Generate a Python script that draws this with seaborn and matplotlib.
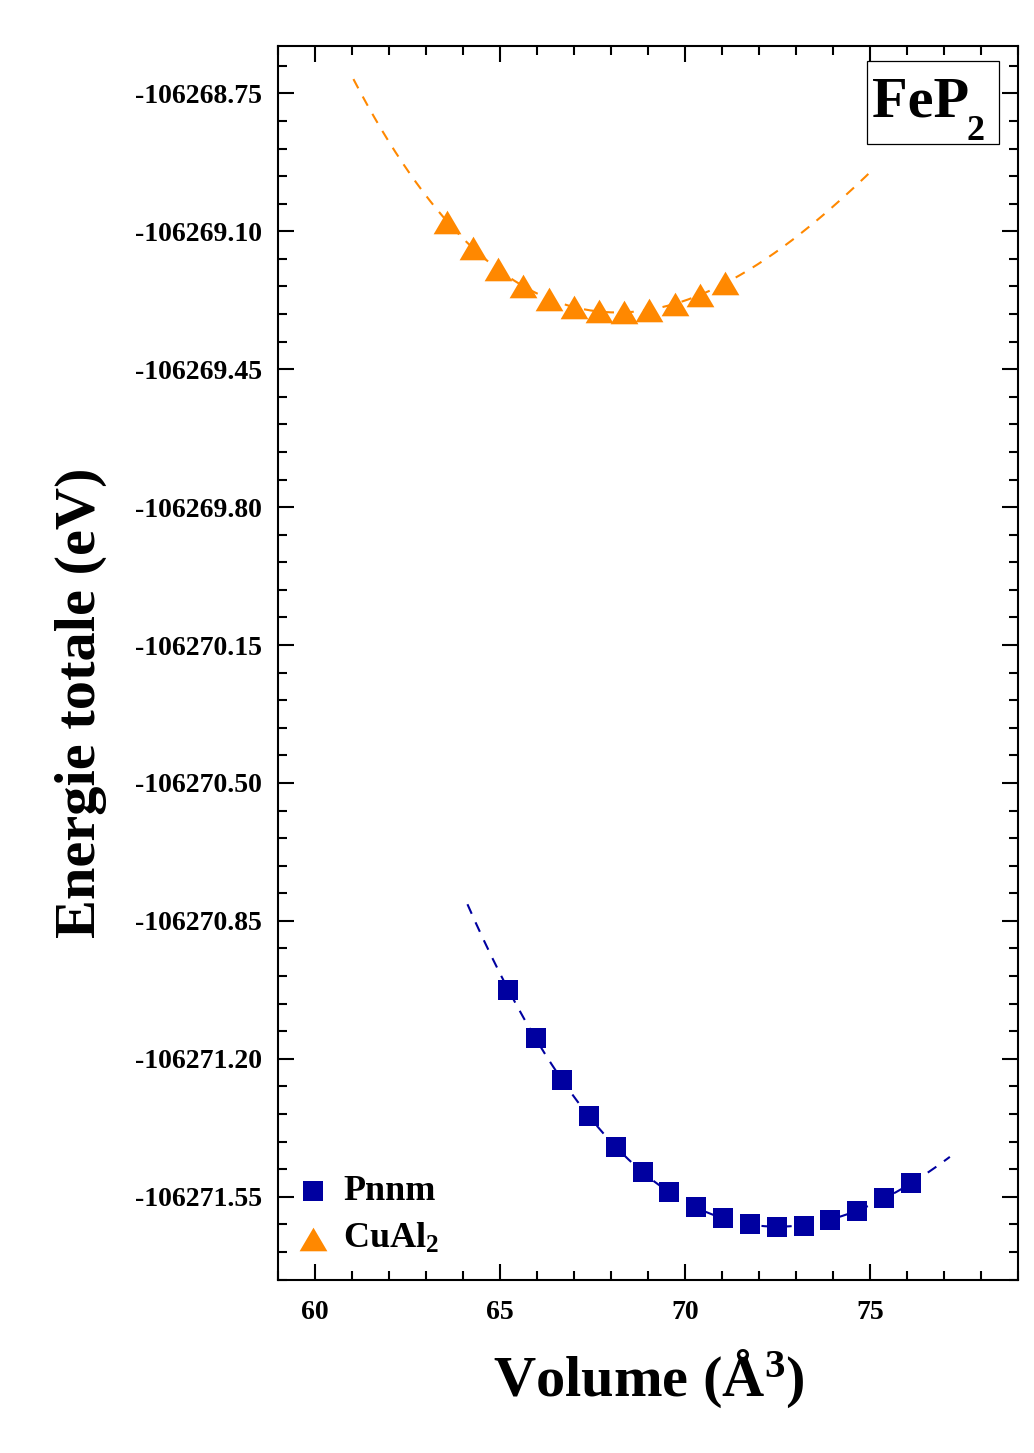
import numpy as np
import pandas as pd
import matplotlib
matplotlib.use("Agg")
import matplotlib.pyplot as plt
import seaborn as sns
from matplotlib.ticker import FixedLocator, AutoMinorLocator, FormatStrFormatter
from matplotlib.patches import Rectangle
from matplotlib.path import Path

# ---------------- data ----------------
vol_pnnm = [65.235, 65.971, 66.692, 67.412, 68.130, 68.859, 69.587, 70.308,
            71.036, 71.757, 72.493, 73.214, 73.931, 74.652, 75.389, 76.109]
e_pnnm = [-106271.025, -106271.148, -106271.254, -106271.346, -106271.424,
          -106271.488, -106271.538, -106271.577, -106271.604, -106271.619,
          -106271.626, -106271.623, -106271.608, -106271.585, -106271.554,
          -106271.516]
vol_cual2 = [63.589, 64.271, 64.957, 65.639, 66.322, 66.997, 67.690, 68.365,
             69.047, 69.741, 70.416, 71.098]
e_cual2 = [-106269.076, -106269.142, -106269.196, -106269.240, -106269.271,
           -106269.293, -106269.303, -106269.305, -106269.299, -106269.284,
           -106269.262, -106269.231]
fit_range_pnnm = [64.13, 77.16]
fit_range_cual2 = [61.05, 75.11]
legend_labels = ["Pnnm", "CuAl$_2$"]
series_colors = ["#0000A0", "#FF8800"]
x_ticks = [60, 65, 70, 75]
y_ticks = [-106268.75, -106269.10, -106269.45, -106269.80, -106270.15,
           -106270.50, -106270.85, -106271.20, -106271.55]
x_label = "Volume (Å$^3$)"
y_label = "Energie totale (eV)"
box_main = "FeP"
box_sub = "2"

# ---------------- style ----------------
sns.set_theme(style="white")
plt.rcParams["font.family"] = ["Liberation Serif", "DejaVu Serif"]
plt.rcParams["font.weight"] = "bold"
plt.rcParams["text.color"] = "black"
plt.rcParams["axes.labelcolor"] = "black"
plt.rcParams["xtick.color"] = "black"
plt.rcParams["ytick.color"] = "black"
plt.rcParams["mathtext.fontset"] = "custom"
plt.rcParams["mathtext.rm"] = "Liberation Serif:bold"
plt.rcParams["mathtext.bf"] = "Liberation Serif:bold"
plt.rcParams["mathtext.it"] = "Liberation Serif:italic:bold"
plt.rcParams["mathtext.default"] = "bf"

fig = plt.figure(figsize=(10.34, 14.53), dpi=100)
ax = fig.add_axes([0.2684, 0.1194, 0.7161, 0.8489])

df_p = pd.DataFrame({"V": vol_pnnm, "E": e_pnnm})
df_c = pd.DataFrame({"V": vol_cual2, "E": e_cual2})


def fit_curve(v, e, rng):
    p = np.polynomial.Polynomial.fit(v, np.array(e) - e[0], 3)
    vv = np.linspace(rng[0], rng[1], 300)
    return pd.DataFrame({"V": vv, "E": p(vv) + e[0]})


fit_p = fit_curve(vol_pnnm, e_pnnm, fit_range_pnnm)
fit_c = fit_curve(vol_cual2, e_cual2, fit_range_cual2)

sns.lineplot(data=fit_p, x="V", y="E", ax=ax, color=series_colors[0],
             linewidth=1.5, sort=False, legend=False)
sns.lineplot(data=fit_c, x="V", y="E", ax=ax, color=series_colors[1],
             linewidth=1.5, sort=False, legend=False)
for ln in ax.lines:
    ln.set_dashes((5, 4.5))

tri = Path([(0, 0.85), (-1, -0.85), (1, -0.85), (0, 0.85)],
           [Path.MOVETO, Path.LINETO, Path.LINETO, Path.CLOSEPOLY])

sns.scatterplot(data=df_p, x="V", y="E", ax=ax, marker="s", s=225,
                color=series_colors[0], linewidth=0, label=legend_labels[0],
                zorder=3)
sns.scatterplot(data=df_c, x="V", y="E", ax=ax, marker=tri, s=400,
                color=series_colors[1], linewidth=0, label=legend_labels[1],
                zorder=3)

ax.set_xlim(59, 79)
ax.set_ylim(-106271.76, -106268.63)

ax.xaxis.set_major_locator(FixedLocator(x_ticks))
ax.xaxis.set_minor_locator(AutoMinorLocator(5))
ax.yaxis.set_major_locator(FixedLocator(y_ticks))
ax.yaxis.set_minor_locator(AutoMinorLocator(5))
ax.yaxis.set_major_formatter(FormatStrFormatter("%.2f"))

ax.tick_params(which="both", direction="in", top=True, right=True,
               bottom=True, left=True, width=1.5, colors="black")
ax.tick_params(which="major", length=11.5, labelsize=20)
ax.tick_params(axis="y", which="major", pad=11)
ax.tick_params(axis="x", which="major", pad=15)
ax.tick_params(which="minor", length=6.3)
for lab in ax.get_xticklabels() + ax.get_yticklabels():
    lab.set_fontweight("bold")
for sp in ax.spines.values():
    sp.set_linewidth(1.5)
    sp.set_color("black")

ax.set_xlabel(x_label, fontsize=42, fontweight="bold")
ax.set_ylabel(y_label, fontsize=42, fontweight="bold")
ax.xaxis.set_label_coords(0.502, -0.055)
ax.yaxis.set_label_coords(-0.230, 0.468)
ax.xaxis.label.set_va("top")

leg = ax.legend(loc="lower left", bbox_to_anchor=(-0.011, 0.0015), frameon=False,
                prop={"size": 26, "weight": "bold"}, handletextpad=0.25,
                labelspacing=0.38, borderaxespad=0.4, borderpad=0.2,
                handlelength=1.2)

rect = Rectangle((0.7961, 0.9205), 0.1783, 0.0673, transform=ax.transAxes,
                 fill=False, edgecolor="black", linewidth=0.9, zorder=5)
ax.add_patch(rect)
ax.text(0.8028, 0.9432, box_main, transform=ax.transAxes, fontsize=42,
        fontweight="bold", ha="left", va="baseline", zorder=6)
ax.text(0.9310, 0.9240, box_sub, transform=ax.transAxes, fontsize=26,
        fontweight="bold", ha="left", va="baseline", zorder=6)

fig.savefig("out.png", dpi=100, facecolor="white")
